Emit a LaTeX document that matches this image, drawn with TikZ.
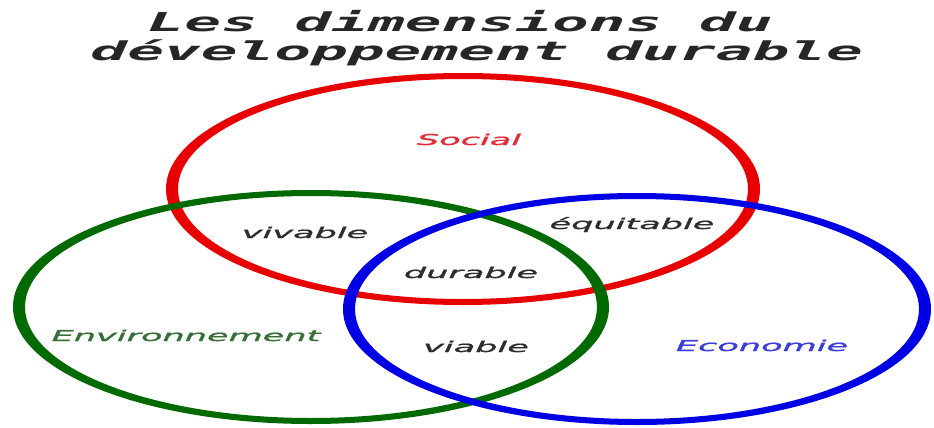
\documentclass[tikz,border=0pt]{standalone}
\usepackage{fontspec}
\setmainfont{DejaVu Sans}
\newfontfamily\titlefont{DejaVu Sans Mono}[BoldItalicFeatures={FakeBold=0}]
\newfontfamily\lblfont{DejaVu Sans}[ItalicFeatures={FakeBold=1}]
\definecolor{cred}{RGB}{232,0,0}
\definecolor{cgreen}{RGB}{0,105,0}
\definecolor{cblue}{RGB}{0,0,228}
\definecolor{lred}{RGB}{225,45,55}
\definecolor{lgreen}{RGB}{55,110,55}
\definecolor{lblue}{RGB}{60,60,215}
\definecolor{lgrey}{RGB}{45,45,45}
\tikzset{
  ttl/.style={anchor=base west, inner sep=0pt, xscale=2.35, font=\titlefont\bfseries\itshape\fontsize{26}{26}\selectfont, text=black!85},
  lbl/.style={anchor=base, inner sep=0pt, xscale=2.34, font=\lblfont\itshape\fontsize{15}{15}\selectfont, text=lgrey}
}
% ring: center, outer rx, outer ry (stroke 12 wide at sides, 6 at top/bottom)
\newcommand\myring[4]{%
  \fill[#1, even odd rule] (#2) ellipse [x radius=#3, y radius=#4]
                           (#2) ellipse [x radius=#3-12, y radius=#4-6];}
\begin{document}
\begin{tikzpicture}[x=1pt,y=-1pt]
\useasboundingbox[fill=white] (0,0) rectangle (934,428);
\node[ttl] (t1) at (147,32) {Les dimensions du};
\node[ttl] (t2) at (90,60) {développement durable};
\coordinate (csoc) at (463,189);
\coordinate (cenv) at (311,307);
\coordinate (ceco) at (637,309);
\myring{cred}{csoc}{297pt}{116pt}
\myring{cgreen}{cenv}{298pt}{117pt}
\myring{cblue}{ceco}{294pt}{116pt}
\node[lbl, text=lred] (ls) at (469,145) {Social};
\node[lbl, text=lgreen] (le) at (186,341) {Environnement};
\node[lbl, text=lblue] (lc) at (762,351) {Economie};
\node[lbl] (lv) at (305,238) {vivable};
\node[lbl] (ld) at (471,278) {durable};
\node[lbl] (lq) at (632,229) {équitable};
\node[lbl] (lb) at (476,352) {viable};
\end{tikzpicture}
\end{document}
